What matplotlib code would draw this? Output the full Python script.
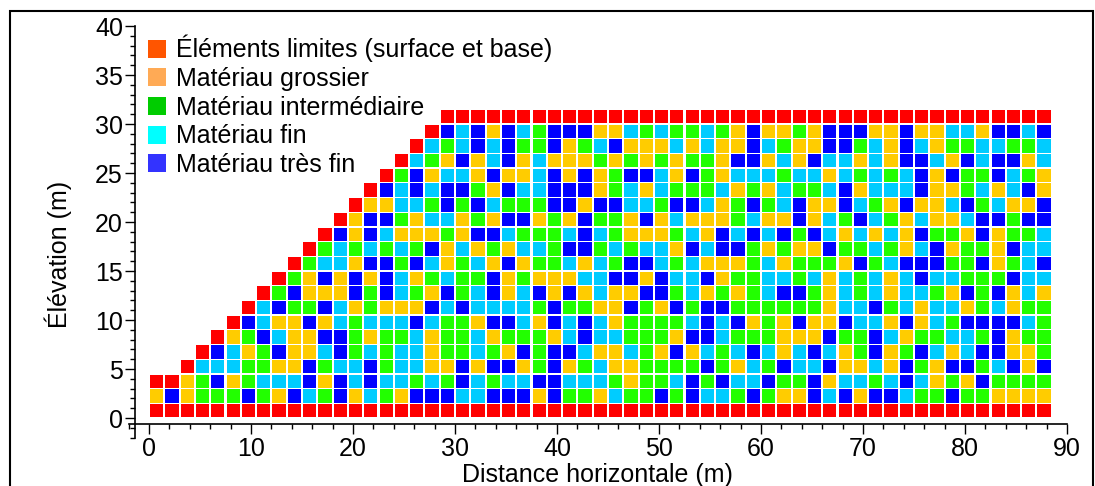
import numpy as np
import matplotlib
matplotlib.use("Agg")
import matplotlib.pyplot as plt
from matplotlib.patches import Patch, Rectangle
from matplotlib.ticker import MultipleLocator

plt.rcParams['font.family'] = ['Liberation Sans', 'DejaVu Sans']

# Maillage : une colonne tous les 1.5 m, une couche tous les 1.5 m
x_debut, pas_x = 0.75, 1.5
y_debut, pas_y = 0.75, 1.5

# Matériau de chaque élément, de la base (ligne 0) vers la surface
# R = limite, Y = grossier, G = intermédiaire, C = fin, B = très fin, . = vide
lignes = [
    "RRRRRRRRRRRRRRRRRRRR RRRRRRRRRRRRRRRRRRRR RRRRRRRRRRRRRRRRRRR",
    "YBYGGGBGYBCGBYCGYBBB CCBBBYBGGYCGGBGBCCGB GYYBCBYBBCGGBGGYYYY",
    "RRYGBYGCCCBYBCBCCGCG BCGCCBBCCCGYGGCBGBCC BGGBYCCGCBCYGYBGGGG",
    "..RCCCGGYYBGCCBGCCYY BYBBYGBYGCYYGGGGBGYC GBCCBYYCYBGYBBGCBYB",
    "...RBCYGBYYCBGCGCCYG GCGYBGBBCYYCGYBYCGCB CYCBCYGBYGBCYCBBYYG",
    "....RYGBCYYBBGYGGCYG GCYGGGYCBCCGGGYBBCGG GYYYBGGBCYGGCCGBYGG",
    ".....RBCYYBYCGCCCBCG GYBBCYBCBCYGGGGCBCBY GYBYYBCCYBYCGBBBBCG",
    "......RCBGGBCYGYYYBC BCCCCGBGGYYBGYBGBBGG GGGGYCCBGCYCCYGCYGG",
    ".......RGBYYYBGBCGYB GCBYCBYBYCYYBBGCYGYG CBBGYCGCYCCGYBGBYCY",
    "........RGYBYBYBCYGC GGBYGYYYCCBBYBCCBYGG CCGCYCGCYCBCCGGGBCC",
    ".........RGCCYBBGBCY GCYBYGGCYCGBBCGCYYYG CYGGGYBGCBBBGGBYGCB",
    "..........RGCGCGCGBY CYGYCCGBBGCGCCYBCBBG YGYYBGGCGYCBYGGYBCC",
    "...........RBYBCYYYG YBBCGGGCBCGYYYGCYBCB CBGBCYCYCYBGGYBYGGC",
    "............RYBBGYCC YGYBBYGYBGGYBYCYYYGC YYBYCGBCGYCYYCBBGBB",
    ".............RYYCCGB GBCGGGBBYBBCCGBBCYGB GCBYYBCGYBYYCBGCYYB",
    "..............RBCBCB BGYBCCBBBYGCYCGGGCYG YCGGCBYCCCBYYGCYCBY",
    "...............RGBYC CYBYYCBYBYGBBCYBGYCC CGCCYCGCGCBYBGGBCGY",
    "................RCGY BYCBYCYYYGYGYGYGGYBB YCYBCCYCYBBCYBCBBYC",
    ".................RCG CBCBGGBYGCBYYYCYCYYB CGYYBBGCYBCYGGCCGGC",
    "..................RB CBYBCGBBBYYCGCGGCGYB YYGYBBBYYBYYCCYBBCB",
    "...................R RRRRRRRRRRRRRRRRRRRR RRRRRRRRRRRRRRRRRRR",
]

codes = ["R", "Y", "G", "C", "B"]
noms = ["Éléments limites (surface et base)", "Matériau grossier",
        "Matériau intermédiaire", "Matériau fin", "Matériau très fin"]
couleurs = {"R": "#ff0000", "Y": "#ffcc00", "G": "#22ff00",
            "C": "#00ccff", "B": "#0000ff"}
couleurs_legende = ["#ff5500", "#ffaa55", "#00cc00", "#00ffff", "#3333ff"]

grille = np.array([list(l.replace(" ", "")) for l in lignes])
j_idx, i_idx = np.indices(grille.shape)
x_centres = x_debut + pas_x * i_idx
y_centres = y_debut + pas_y * j_idx

larg, haut = 1.3, 1.36
taille = 18

fig = plt.figure(figsize=(10.95, 4.86), dpi=100)
ax = fig.add_axes([128.6 / 1095, 1 - 437.6 / 486, 938.4 / 1095, 411.6 / 486])

for c in codes:
    m = grille == c
    ax.bar(x_centres[m], haut, width=larg, bottom=y_centres[m] - haut / 2,
           color=couleurs[c], linewidth=0)

ax.set_xlim(-2, 90)
ax.set_ylim(-2, 40)

# Axes décalés façon Grapher
ax.spines['top'].set_visible(False)
ax.spines['right'].set_visible(False)
ax.spines['left'].set_position(('data', -1.4))
ax.spines['bottom'].set_position(('data', -0.6))
for s in ('left', 'bottom'):
    ax.spines[s].set_linewidth(1.2)

ax.xaxis.set_major_locator(MultipleLocator(10))
ax.xaxis.set_minor_locator(MultipleLocator(2))
ax.yaxis.set_major_locator(MultipleLocator(5))
ax.yaxis.set_minor_locator(MultipleLocator(1))
ax.tick_params(which='major', direction='out', length=7, width=1,
               labelsize=taille)
ax.tick_params(which='minor', direction='out', length=3.8, width=1)
ax.tick_params(axis='y', pad=1.5)
ax.tick_params(axis='x', pad=2.5)

ax.set_xlabel("Distance horizontale (m)", fontsize=taille, labelpad=1.5)
ax.set_ylabel("Élévation (m)", fontsize=taille)
ax.yaxis.set_label_coords(-0.060, 0.445)

poignees = [Patch(facecolor=col, edgecolor='none') for col in couleurs_legende]
ax.legend(poignees, noms, loc='upper left',
          bbox_to_anchor=(148 / 1095, 1 - 35 / 486),
          bbox_transform=fig.transFigure, frameon=False, fontsize=taille,
          handlelength=0.72, handleheight=0.72, handletextpad=0.42,
          labelspacing=0.185, borderpad=0, borderaxespad=0)

# Cadre autour de la figure
fig.add_artist(Rectangle((9.5 / 1095, -0.05), 1083 / 1095, 1.05 - 10.5 / 486,
                         transform=fig.transFigure, fill=False,
                         edgecolor='black', linewidth=1.5, clip_on=False))

plt.savefig("out.png", dpi=100)
